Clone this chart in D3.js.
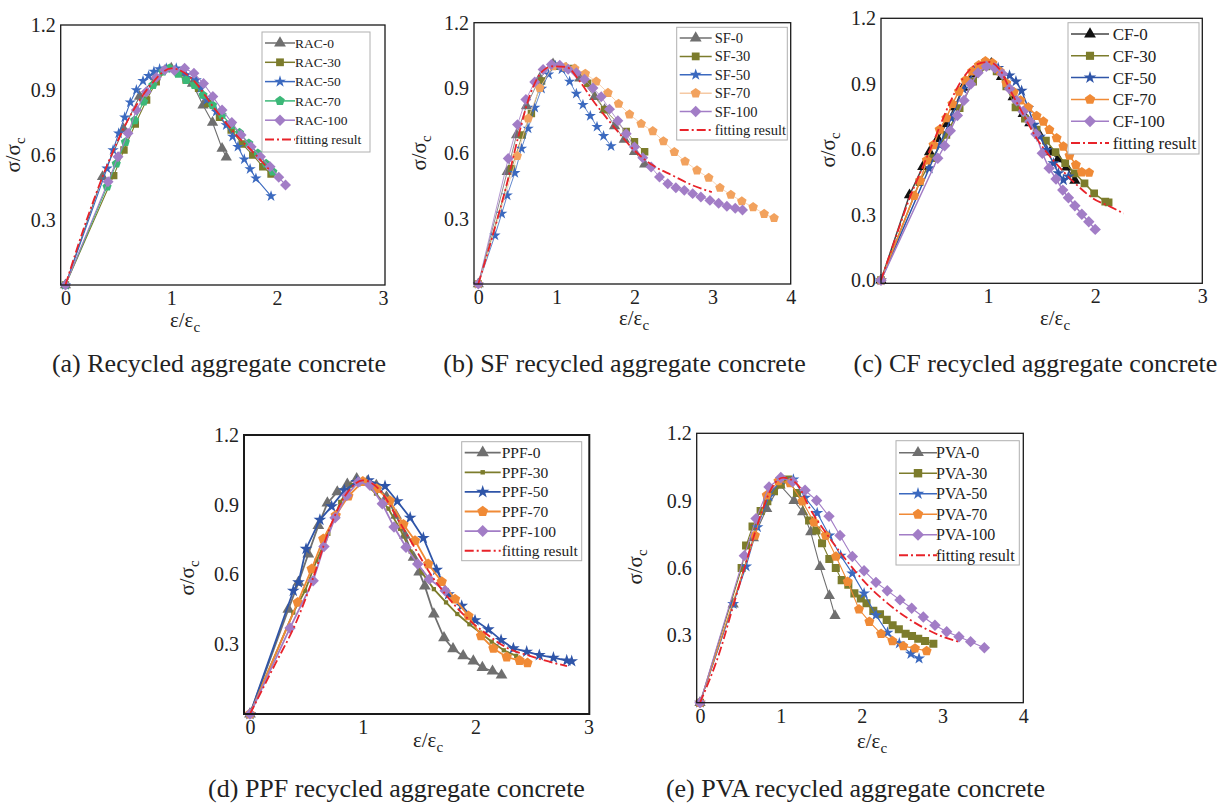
<!DOCTYPE html>
<html lang="en">
<head>
<meta charset="UTF-8">
<title>Stress-strain curves</title>
<script src="https://d3js.org/d3.v7.min.js"></script>
<style>
  body { margin: 0; background: #fff; }
  svg { display: block; font-family: "Liberation Serif", "Times New Roman", serif; }
</style>
</head>
<body>
<svg id="chart" width="1228" height="805"></svg>
<script>
// ---- data: [strain ratio, stress ratio] ----
// (a) recycled aggregate concrete
const rac0 = [[0,0],[0.35,0.5],[0.55,0.72],[0.7,0.87],[0.85,0.96],[1.0,1.0],[1.1,0.98],[1.2,0.93],[1.3,0.83],[1.39,0.75],[1.48,0.63],[1.52,0.59]];
const rac30 = [[0,0],[0.456,0.505],[0.553,0.623],[0.66,0.743],[0.767,0.854],[0.858,0.938],[0.969,1.0],[1.14,0.946],[1.258,0.908],[1.346,0.838],[1.456,0.774],[1.566,0.715],[1.67,0.651],[1.77,0.6],[1.865,0.546],[1.943,0.512]];
const rac50 = [[0,0],[0.393,0.538],[0.45,0.623],[0.503,0.7],[0.56,0.774],[0.613,0.843],[0.67,0.9],[0.733,0.942],[0.786,0.965],[0.836,0.985],[0.89,0.997],[0.953,1.0],[1.047,1.0],[1.14,0.97],[1.236,0.946],[1.28,0.908],[1.336,0.854],[1.425,0.8],[1.52,0.738],[1.58,0.685],[1.63,0.638],[1.69,0.58],[1.745,0.535],[1.8,0.492],[1.943,0.41]];
const rac70 = [[0,0],[0.393,0.454],[0.48,0.56],[0.566,0.66],[0.654,0.76],[0.739,0.846],[0.827,0.923],[0.92,0.985],[0.984,1.0],[1.063,0.975],[1.14,0.946],[1.22,0.923],[1.3,0.877],[1.39,0.83],[1.48,0.785],[1.566,0.738],[1.645,0.703],[1.733,0.654],[1.818,0.608],[1.896,0.56],[1.96,0.523]];
const rac100 = [[0,0],[0.403,0.477],[0.497,0.592],[0.591,0.7],[0.67,0.808],[0.764,0.892],[0.858,0.958],[0.937,0.992],[1.03,0.99],[1.126,1.0],[1.214,0.977],[1.305,0.93],[1.393,0.87],[1.48,0.808],[1.572,0.75],[1.66,0.692],[1.755,0.638],[1.843,0.592],[1.934,0.546],[2.016,0.497],[2.08,0.462]];
const racFit = [[0,0],[0.2,0.3],[0.4,0.56],[0.6,0.77],[0.8,0.92],[1.0,1.0],[1.2,0.95],[1.4,0.82],[1.6,0.7],[1.8,0.6],[1.93,0.53]];

// (b) SF recycled aggregate concrete
const sf0 = [[0,0],[0.37,0.515],[0.49,0.684],[0.617,0.818],[0.787,0.945],[0.957,1.01],[1.128,0.99],[1.3,0.945],[1.49,0.86],[1.617,0.8],[1.745,0.726],[1.87,0.664],[2.0,0.607],[2.13,0.55]];
const sf30 = [[0,0],[0.426,0.53],[0.562,0.684],[0.68,0.783],[0.81,0.932],[0.98,1.0],[1.213,0.99],[1.4,0.922],[1.617,0.8],[1.894,0.7],[2.0,0.653],[2.13,0.607]];
const sf50 = [[0,0],[0.213,0.223],[0.3,0.323],[0.37,0.407],[0.468,0.51],[0.553,0.622],[0.638,0.714],[0.723,0.81],[0.81,0.897],[0.9,0.963],[0.987,1.003],[1.07,0.986],[1.17,0.93],[1.255,0.874],[1.34,0.823],[1.434,0.772],[1.52,0.722],[1.604,0.68],[1.7,0.633]];
const sf70 = [[0,0],[0.498,0.588],[0.638,0.76],[0.787,0.9],[0.957,1.0],[1.115,0.996],[1.234,0.99],[1.37,0.966],[1.51,0.93],[1.66,0.878],[1.796,0.828],[1.936,0.779],[2.085,0.736],[2.234,0.702],[2.37,0.656],[2.51,0.606],[2.647,0.563],[2.8,0.522],[2.95,0.488],[3.094,0.442],[3.234,0.41],[3.374,0.38],[3.519,0.353],[3.66,0.322],[3.787,0.303]];
const sf100 = [[0,0],[0.383,0.576],[0.502,0.732],[0.609,0.847],[0.723,0.928],[0.83,0.985],[0.936,1.008],[1.043,1.005],[1.15,0.986],[1.255,0.97],[1.36,0.94],[1.468,0.9],[1.574,0.86],[1.68,0.803],[1.787,0.75],[1.894,0.69],[2.0,0.629],[2.106,0.58],[2.213,0.537],[2.32,0.491],[2.426,0.46],[2.53,0.442],[2.638,0.43],[2.745,0.415],[2.85,0.4],[2.966,0.384],[3.077,0.371],[3.183,0.357],[3.29,0.348],[3.383,0.34]];
const sfFit = [[0,0],[0.19,0.23],[0.36,0.452],[0.51,0.674],[0.66,0.866],[0.83,0.98],[0.957,1.0],[1.13,0.996],[1.3,0.93],[1.468,0.843],[1.64,0.764],[1.81,0.69],[1.98,0.62],[2.234,0.545],[2.49,0.498],[2.745,0.453],[2.99,0.422]];

// (c) CF recycled aggregate concrete
const cf0 = [[0,0],[0.266,0.39],[0.39,0.52],[0.453,0.587],[0.53,0.648],[0.61,0.717],[0.688,0.794],[0.766,0.883],[0.86,0.944],[0.953,0.99],[1.03,0.993],[1.125,0.932],[1.234,0.84],[1.328,0.763],[1.39,0.72],[1.484,0.663],[1.58,0.587],[1.656,0.556],[1.734,0.518],[1.81,0.457]];
const cf30 = [[0,0],[0.36,0.45],[0.48,0.56],[0.61,0.666],[0.734,0.789],[0.86,0.91],[0.984,0.98],[1.08,0.957],[1.17,0.888],[1.256,0.792],[1.344,0.74],[1.453,0.69],[1.54,0.64],[1.63,0.587],[1.72,0.536],[1.81,0.49],[1.9,0.444],[1.99,0.398],[2.094,0.36],[2.125,0.357]];
const cf50 = [[0,0],[0.45,0.513],[0.547,0.62],[0.656,0.743],[0.766,0.877],[0.875,0.957],[0.984,0.995],[1.094,0.972],[1.2,0.938],[1.26,0.911],[1.313,0.868],[1.375,0.789],[1.43,0.712],[1.484,0.658],[1.547,0.597],[1.61,0.536],[1.656,0.49],[1.703,0.459],[1.75,0.475]];
const cf70 = [[0,0],[0.31,0.387],[0.366,0.456],[0.428,0.55],[0.49,0.62],[0.547,0.69],[0.61,0.743],[0.666,0.808],[0.728,0.865],[0.788,0.916],[0.85,0.957],[0.913,0.985],[0.975,1.003],[1.04,0.995],[1.11,0.957],[1.17,0.903],[1.24,0.862],[1.303,0.824],[1.375,0.792],[1.453,0.753],[1.516,0.727],[1.572,0.689],[1.64,0.651],[1.703,0.613],[1.76,0.571],[1.82,0.528],[1.875,0.495],[1.943,0.493]];
const cf100 = [[0,0],[0.53,0.559],[0.594,0.616],[0.647,0.685],[0.713,0.755],[0.775,0.824],[0.838,0.899],[0.906,0.95],[0.984,0.98],[1.063,0.972],[1.134,0.945],[1.2,0.877],[1.266,0.822],[1.328,0.773],[1.39,0.727],[1.447,0.67],[1.506,0.582],[1.57,0.513],[1.634,0.464],[1.697,0.413],[1.75,0.378],[1.81,0.341],[1.875,0.302],[1.94,0.268],[2.0,0.233]];
const cfFit = [[0,0],[0.14,0.2],[0.266,0.375],[0.39,0.52],[0.516,0.666],[0.64,0.81],[0.766,0.926],[0.89,0.988],[1.0,1.0],[1.11,0.965],[1.2,0.877],[1.33,0.758],[1.453,0.65],[1.58,0.566],[1.703,0.498],[1.83,0.436],[1.98,0.375],[2.14,0.337],[2.266,0.306]];

// (d) PPF recycled aggregate concrete
const ppf0 = [[0,0],[0.34,0.45],[0.43,0.566],[0.517,0.688],[0.606,0.81],[0.686,0.907],[0.774,0.955],[0.863,0.988],[0.946,1.012],[1.04,1.0],[1.12,0.983],[1.21,0.933],[1.295,0.854],[1.374,0.768],[1.45,0.674],[1.5,0.61],[1.55,0.55],[1.63,0.43],[1.72,0.328],[1.8,0.28],[1.89,0.25],[1.98,0.228],[2.06,0.2],[2.15,0.184],[2.23,0.167]];
const ppf30 = [[0,0],[0.384,0.436],[0.488,0.53],[0.59,0.66],[0.695,0.775],[0.8,0.912],[0.9,0.984],[1.0,1.0],[1.117,0.948],[1.227,0.883],[1.33,0.796],[1.425,0.698],[1.522,0.61],[1.63,0.537],[1.738,0.48],[1.838,0.43],[1.945,0.386],[2.04,0.35],[2.143,0.311],[2.25,0.274],[2.36,0.25]];
const ppf50 = [[0,0],[0.384,0.53],[0.43,0.566],[0.497,0.71],[0.62,0.835],[0.724,0.893],[0.837,0.962],[0.946,0.998],[1.05,1.005],[1.197,0.98],[1.306,0.915],[1.42,0.844],[1.537,0.757],[1.655,0.62],[1.76,0.515],[1.877,0.465],[1.995,0.403],[2.113,0.364],[2.226,0.318],[2.335,0.282],[2.453,0.268],[2.565,0.253],[2.69,0.242],[2.808,0.23],[2.852,0.227]];
const ppf70 = [[0,0],[0.423,0.48],[0.547,0.624],[0.65,0.753],[0.76,0.854],[0.872,0.937],[1.0,1.0],[1.123,0.969],[1.24,0.918],[1.36,0.815],[1.463,0.746],[1.58,0.645],[1.7,0.569],[1.818,0.494],[1.936,0.422],[2.048,0.336],[2.158,0.282],[2.276,0.245],[2.39,0.23],[2.46,0.22]];
const ppf100 = [[0,0],[0.355,0.37],[0.56,0.573],[0.656,0.72],[0.754,0.844],[0.857,0.94],[0.96,0.998],[1.064,0.984],[1.173,0.904],[1.277,0.804],[1.383,0.717],[1.487,0.645],[1.59,0.58],[1.73,0.53]];
const ppfFit = [[0,0],[0.207,0.199],[0.414,0.4],[0.562,0.588],[0.71,0.804],[0.857,0.948],[1.0,1.005],[1.153,0.962],[1.3,0.847],[1.45,0.724],[1.6,0.602],[1.744,0.508],[1.92,0.415],[2.1,0.343],[2.276,0.285],[2.48,0.25],[2.63,0.228],[2.81,0.206]];

// (e) PVA recycled aggregate concrete
const pva0 = [[0,0],[0.41,0.439],[0.66,0.734],[0.825,0.864],[0.99,0.969],[1.163,0.9],[1.27,0.85],[1.37,0.76],[1.485,0.606],[1.6,0.476],[1.67,0.387]];
const pva30 = [[0,0],[0.515,0.6],[0.57,0.7],[0.65,0.785],[0.75,0.854],[0.833,0.897],[0.915,0.942],[1.0,0.972],[1.09,0.994],[1.2,0.934],[1.35,0.812],[1.44,0.767],[1.51,0.71],[1.6,0.64],[1.68,0.6],[1.753,0.546],[1.835,0.525],[1.91,0.487],[1.99,0.464],[2.06,0.443],[2.144,0.409],[2.227,0.394],[2.31,0.369],[2.383,0.345],[2.46,0.327],[2.544,0.307],[2.623,0.297],[2.7,0.285],[2.784,0.275],[2.887,0.263]];
const pva50 = [[0,0],[0.41,0.44],[0.57,0.607],[0.71,0.782],[0.854,0.919],[1.0,0.994],[1.155,0.994],[1.3,0.913],[1.45,0.845],[1.6,0.745],[1.74,0.655],[1.885,0.576],[2.03,0.487],[2.177,0.39],[2.32,0.312],[2.466,0.264],[2.61,0.218],[2.71,0.197]];
const pva70 = [[0,0],[0.68,0.745],[0.825,0.924],[0.97,0.987],[1.113,0.979],[1.266,0.897],[1.41,0.804],[1.555,0.745],[1.682,0.651],[1.827,0.539],[1.967,0.416],[2.095,0.361],[2.24,0.307],[2.38,0.275],[2.515,0.252],[2.66,0.242],[2.804,0.23]];
const pva100 = [[0,0],[0.548,0.655],[0.693,0.82],[0.854,0.961],[1.0,1.003],[1.146,0.984],[1.3,0.946],[1.443,0.901],[1.596,0.83],[1.732,0.745],[1.885,0.651],[2.03,0.588],[2.177,0.536],[2.317,0.499],[2.474,0.458],[2.619,0.421],[2.763,0.382],[2.907,0.345],[3.052,0.316],[3.204,0.294],[3.348,0.272],[3.518,0.245]];
const pvaFit = [[0,0],[0.247,0.23],[0.41,0.43],[0.577,0.633],[0.742,0.827],[0.907,0.969],[1.03,1.003],[1.196,0.976],[1.36,0.864],[1.567,0.752],[1.814,0.633],[2.062,0.528],[2.31,0.446],[2.557,0.379],[2.804,0.327],[3.01,0.293],[3.196,0.272]];

const captions = ["(a) Recycled aggregate concrete", "(b) SF recycled aggregate concrete",
  "(c) CF recycled aggregate concrete", "(d) PPF recycled aggregate concrete", "(e) PVA recycled aggregate concrete"];

// ---- marker shapes ----
const symbolPentagon = {
  draw(ctx, size) {
    const r = Math.sqrt(size / 2.378);
    for (let i = 0; i < 5; i++) {
      const a = -Math.PI / 2 + i * 2 * Math.PI / 5;
      const px = r * Math.cos(a), py = r * Math.sin(a);
      i ? ctx.lineTo(px, py) : ctx.moveTo(px, py);
    }
    ctx.closePath();
  }
};
const symbolRhomb = {
  draw(ctx, size) {
    const r = Math.sqrt(size / 2);
    ctx.moveTo(0, -r); ctx.lineTo(r, 0); ctx.lineTo(0, r); ctx.lineTo(-r, 0); ctx.closePath();
  }
};
const shapes = {
  tri: d3.symbolTriangle, sq: d3.symbolSquare, star: d3.symbolStar,
  pent: symbolPentagon, dia: symbolRhomb
};

const GREY = "#6f6f6f", OLIVE = "#7c7c2c", BLUE = "#3b69bf", GREEN = "#3cb878",
      PURPLE = "#a27dc6", ORANGE = "#f08a36", RED = "#e8232a";

function ser(name, data, color, shape, size, lineColor) {
  return { name, data, color, shape, size, lineColor: lineColor || color };
}

const panels = [
  { box: [60.7, 385, 25, 285], xd: [-0.045, 3.02], yd: [0, 1.2], xt: [0, 1, 2, 3], yt: [0.3, 0.6, 0.9, 1.2],
    lw: 1.1, frameW: 1.3, xlab: [185, 327], ylab: [20, 155], cap: [219, 372],
    legend: { x: 262, y: 32, w: 108, h: 120, first: 11, step: 19.3, lineW: 30, textX: 33, fs: 13.5 },
    series: [ser("RAC-0", rac0, GREY, "tri", 55), ser("RAC-30", rac30, OLIVE, "sq", 55),
      ser("RAC-50", rac50, BLUE, "star", 40), ser("RAC-70", rac70, GREEN, "pent", 55),
      ser("RAC-100", rac100, PURPLE, "dia", 60)], fit: racFit },
  { box: [474, 790.7, 22.7, 284], xd: [-0.055, 4.0], yd: [0, 1.2], xt: [0, 1, 2, 3, 4], yt: [0.3, 0.6, 0.9, 1.2],
    lw: 0.8, frameW: 1.3, xlab: [634, 325], ylab: [426, 153], cap: [624.5, 372],
    legend: { x: 676.7, y: 27.3, w: 110.6, h: 112.7, first: 10.7, step: 18.4, lineW: 32, textX: 38, fs: 14.5 },
    series: [ser("SF-0", sf0, GREY, "tri", 55), ser("SF-30", sf30, OLIVE, "sq", 55),
      ser("SF-50", sf50, BLUE, "star", 40), ser("SF-70", sf70, "#f2a25e", "pent", 60, "#f5c9a4"),
      ser("SF-100", sf100, PURPLE, "dia", 60)], fit: sfFit },
  { box: [881, 1202.3, 18.3, 283.3], xd: [0, 3], yd: [-0.014, 1.2], xt: [1, 2, 3], yt: [0, 0.3, 0.6, 0.9, 1.2],
    lw: 1.5, frameW: 1.3, xlab: [1055, 325], ylab: [835, 150], cap: [1035.5, 372],
    legend: { x: 1068, y: 22.7, w: 131, h: 131.3, first: 11.3, step: 21.8, lineW: 38, textX: 44.7, fs: 17 },
    series: [ser("CF-0", cf0, "#111", "tri", 55, "#444"), ser("CF-30", cf30, OLIVE, "sq", 60),
      ser("CF-50", cf50, "#2f55a8", "star", 45), ser("CF-70", cf70, ORANGE, "pent", 65),
      ser("CF-100", cf100, PURPLE, "dia", 65)], fit: cfFit },
  { box: [244, 589.3, 435, 714], xd: [-0.053, 3.008], yd: [0, 1.2], xt: [0, 1, 2, 3], yt: [0.3, 0.6, 0.9, 1.2],
    lw: 1.8, frameW: 2, xlab: [428, 747], ylab: [194, 578], cap: [396.5, 797],
    legend: { x: 461.7, y: 441.7, w: 120, h: 119, first: 11, step: 19.6, lineW: 36, textX: 40, fs: 15.5 },
    series: [ser("PPF-0", ppf0, GREY, "tri", 60), ser("PPF-30", ppf30, OLIVE, "sq", 18),
      ser("PPF-50", ppf50, "#2f55a8", "star", 50), ser("PPF-70", ppf70, ORANGE, "pent", 70),
      ser("PPF-100", ppf100, PURPLE, "dia", 65)], fit: ppfFit },
  { box: [696.7, 1023.3, 433.3, 702.7], xd: [-0.041, 4.0], yd: [0, 1.2], xt: [0, 1, 2, 3, 4], yt: [0.3, 0.6, 0.9, 1.2],
    lw: 1.1, frameW: 1.3, xlab: [872, 748], ylab: [642, 567], cap: [855.5, 797],
    legend: { x: 896, y: 440.7, w: 123.3, h: 124.3, first: 12, step: 20.5, lineW: 38, textX: 40, fs: 16 },
    series: [ser("PVA-0", pva0, GREY, "tri", 55), ser("PVA-30", pva30, OLIVE, "sq", 65),
      ser("PVA-50", pva50, BLUE, "star", 45), ser("PVA-70", pva70, ORANGE, "pent", 65),
      ser("PVA-100", pva100, PURPLE, "dia", 65)], fit: pvaFit }
];

const svg = d3.select("#chart");

function subLabel(g, base, x, y, rotate) {
  const t = g.append("text")
    .attr("transform", `translate(${x},${y})` + (rotate ? " rotate(-90)" : ""))
    .attr("text-anchor", "middle").attr("font-size", 21).attr("fill", "#222");
  t.append("tspan").text(base);
  t.append("tspan").attr("font-size", 15).attr("dy", 5).text("c");
}

panels.forEach((p, i) => {
  const [left, right, top, bottom] = p.box;
  const x = d3.scaleLinear().domain(p.xd).range([left, right]);
  const y = d3.scaleLinear().domain(p.yd).range([bottom, top]);
  const g = svg.append("g");

  const clipId = "clip" + i;
  g.append("clipPath").attr("id", clipId).append("rect")
    .attr("x", left - 6).attr("y", top).attr("width", right - left + 6).attr("height", bottom - top + 6);

  // axes (labels only, frame drawn separately)
  const xa = g.append("g").attr("transform", `translate(0,${bottom})`)
    .call(d3.axisBottom(x).tickValues(p.xt).tickSize(0).tickPadding(6).tickFormat(d3.format("d")));
  const ya = g.append("g").attr("transform", `translate(${left},0)`)
    .call(d3.axisLeft(y).tickValues(p.yt).tickSize(0).tickPadding(5).tickFormat(d3.format(".1f")));
  [xa, ya].forEach(a => {
    a.select(".domain").remove();
    a.selectAll("text").attr("font-size", 20).attr("fill", "#222")
      .attr("font-family", "'Liberation Serif', serif");
  });

  const plot = g.append("g").attr("clip-path", `url(#${clipId})`);
  const line = d3.line().x(d => x(d[0])).y(d => y(d[1]));

  p.series.forEach(s => {
    plot.append("path").attr("d", line(s.data)).attr("fill", "none")
      .attr("stroke", s.lineColor).attr("stroke-width", p.lw);
    plot.selectAll(null).data(s.data).enter().append("path")
      .attr("transform", d => `translate(${x(d[0])},${y(d[1])})`)
      .attr("d", d3.symbol(shapes[s.shape], s.size))
      .attr("fill", s.color);
  });

  plot.append("path").attr("d", d3.line().curve(d3.curveMonotoneX).x(d => x(d[0])).y(d => y(d[1]))(p.fit))
    .attr("fill", "none").attr("stroke", RED).attr("stroke-width", 1.8)
    .attr("stroke-dasharray", "9,3,2,3");

  g.append("rect").attr("x", left).attr("y", top).attr("width", right - left).attr("height", bottom - top)
    .attr("fill", "none").attr("stroke", "#1a1a1a").attr("stroke-width", p.frameW);

  // legend
  const L = p.legend;
  const lg = g.append("g").attr("transform", `translate(${L.x},${L.y})`);
  lg.append("rect").attr("width", L.w).attr("height", L.h).attr("fill", "#fff")
    .attr("stroke", "#b0b0b0").attr("stroke-width", 1);
  const items = p.series.concat([{ name: "fitting result", fit: true }]);
  items.forEach((s, k) => {
    const yy = L.first + k * L.step;
    const row = lg.append("g").attr("transform", `translate(0,${yy})`);
    if (s.fit) {
      row.append("line").attr("x1", 3).attr("x2", 3 + L.lineW).attr("stroke", RED)
        .attr("stroke-width", 2).attr("stroke-dasharray", "9,3,2,3");
    } else {
      row.append("line").attr("x1", 3).attr("x2", 3 + L.lineW).attr("stroke", s.lineColor)
        .attr("stroke-width", Math.max(p.lw, 1.5));
      row.append("path").attr("transform", `translate(${3 + L.lineW / 2},0)`)
        .attr("d", d3.symbol(shapes[s.shape], s.size * 1.1)).attr("fill", s.color);
    }
    row.append("text").attr("x", L.textX).attr("dy", "0.35em").attr("font-size", L.fs)
      .attr("fill", "#222").text(s.name);
  });

  subLabel(g, "ε/ε", p.xlab[0], p.xlab[1], false);
  subLabel(g, "σ/σ", p.ylab[0], p.ylab[1], true);

  g.append("text").attr("x", p.cap[0]).attr("y", p.cap[1]).attr("text-anchor", "middle")
    .attr("font-size", 26).attr("fill", "#222").text(captions[i]);
});
</script>
</body>
</html>
